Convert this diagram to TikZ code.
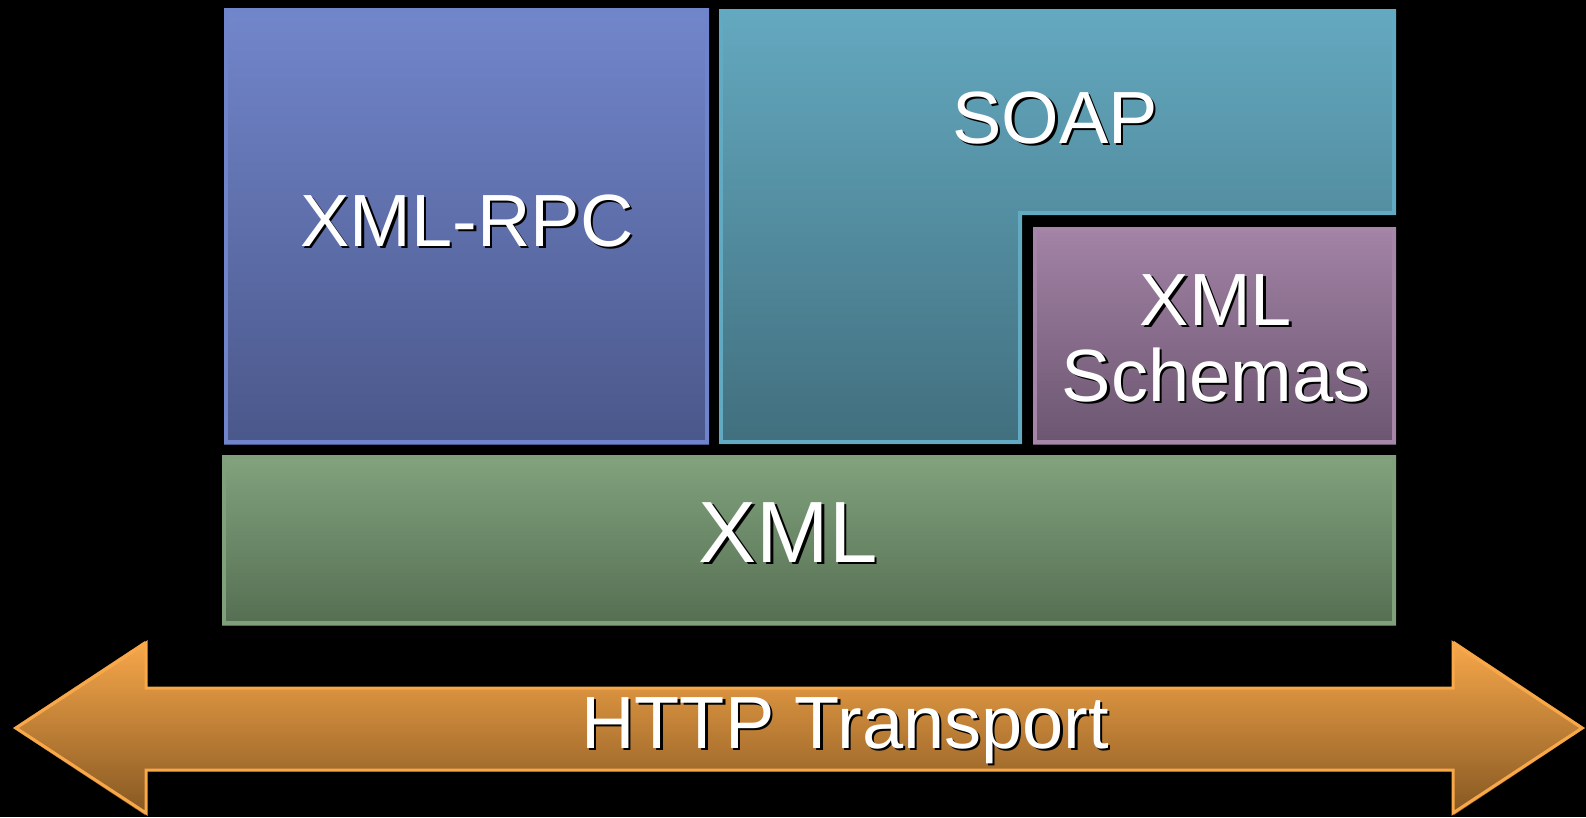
\documentclass[tikz,border=0pt]{standalone}
\usepackage{fontspec}
\setmainfont{Liberation Sans}
\definecolor{rpcTop}{HTML}{7286CB}
\definecolor{rpcBot}{HTML}{4A578A}
\definecolor{rpcLine}{HTML}{6F84CA}
\definecolor{soapTop}{HTML}{64A9C0}
\definecolor{soapBot}{HTML}{416F7E}
\definecolor{soapLine}{HTML}{62AAC2}
\definecolor{schTop}{HTML}{A383A6}
\definecolor{schBot}{HTML}{6B5670}
\definecolor{schLine}{HTML}{A585A8}
\definecolor{xmlTop}{HTML}{81A37D}
\definecolor{xmlBot}{HTML}{556E52}
\definecolor{xmlLine}{HTML}{7FA07B}
\definecolor{arrTop}{HTML}{F8A84A}
\definecolor{arrBot}{HTML}{855722}
\definecolor{arrLine}{HTML}{F8A848}
\tikzset{
  lbl/.style={text=white, inner sep=0pt, anchor=base, font=\fontsize{74}{76}\selectfont},
  lblshadow/.style={lbl, text=black},
  bigfont/.style={font=\fontsize{87}{95}\selectfont},
}
\begin{document}
\begin{tikzpicture}[x=1pt,y=-1pt]
\fill[black] (0,0) rectangle (1586,817);
\useasboundingbox (0,0) rectangle (1586,817);
% XML-RPC box
\shade[top color=rpcTop, bottom color=rpcBot] (224,8) rectangle (709,444);
\draw[rpcLine, line width=4pt] (226,10) rectangle (707,442);
% SOAP L-shape
\shade[top color=soapTop, bottom color=soapBot]
  (719,9) -- (1396,9) -- (1396,215) -- (1022,215) -- (1022,444) -- (719,444) -- cycle;
\draw[soapLine, line width=4pt, line join=miter]
  (721,11) -- (1394,11) -- (1394,213) -- (1020,213) -- (1020,442) -- (721,442) -- cycle;
% XML Schemas box
\shade[top color=schTop, bottom color=schBot] (1033,227) rectangle (1396,444);
\draw[schLine, line width=4pt] (1035,229) rectangle (1394,442);
% XML box
\shade[top color=xmlTop, bottom color=xmlBot] (222,455) rectangle (1396,625);
\draw[xmlLine, line width=4pt] (224,457) rectangle (1394,623);
% HTTP arrow
\shade[top color=arrTop, bottom color=arrBot]
  (13,728) -- (145,641) -- (145,687) -- (1454,687) -- (1454,641) -- (1585,728)
  -- (1454,815) -- (1454,771) -- (145,771) -- (145,815) -- cycle;
\draw[arrLine, line width=3pt, line join=miter]
  (16,728) -- (146,643) -- (146,688) -- (1453,688) -- (1453,643) -- (1582,728)
  -- (1453,813) -- (1453,770) -- (146,770) -- (146,813) -- cycle;
% labels with drop shadows
\node[lblshadow] at (469.5,248.5) {XML-RPC};
\node[lbl] (rpc) at (467,246) {XML-RPC};
\node[lblshadow] at (1057.5,145.5) {SOAP};
\node[lbl] (soap) at (1055,143) {SOAP};
\node[lblshadow, align=center] at (1218.5,403.5) {XML\\Schemas};
\node[lbl, align=center] (schemas) at (1216,401) {XML\\Schemas};
\node[lblshadow, bigfont] at (790.5,564.5) {XML};
\node[lbl, bigfont] (xml) at (788,562) {XML};
\node[lblshadow] at (847.5,750.5) {HTTP Transport};
\node[lbl] (http) at (845,748) {HTTP Transport};
\end{tikzpicture}
\end{document}
